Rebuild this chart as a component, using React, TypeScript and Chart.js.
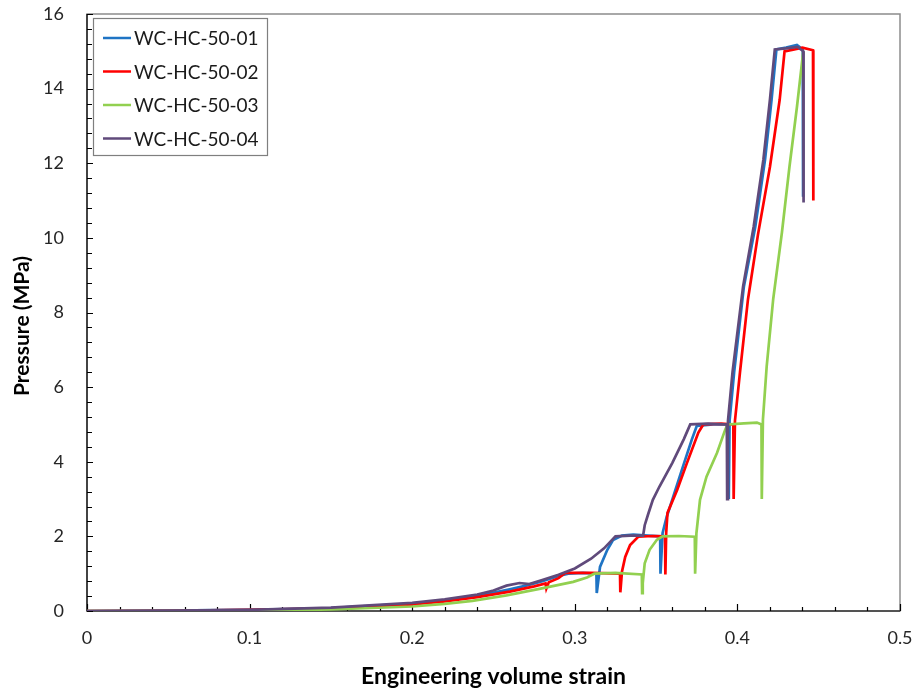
import React, { useEffect, useRef } from "react";
import { Chart, registerables } from "chart.js";

Chart.register(...registerables);

const FONT = "Lato, 'Open Sans', 'DejaVu Sans', sans-serif";

const seriesNames = ["WC-HC-50-01", "WC-HC-50-02", "WC-HC-50-03", "WC-HC-50-04"];
const seriesColors = ["#1f74c4", "#ff0000", "#92d050", "#604a7b"];

const strain01 = [0, 0.05, 0.1, 0.15, 0.2, 0.22, 0.24, 0.26, 0.27, 0.28, 0.29, 0.296, 0.305, 0.3133, 0.3135, 0.3155, 0.32, 0.3235, 0.329, 0.336, 0.345, 0.3525, 0.3527, 0.354, 0.3565, 0.3605, 0.3665, 0.372, 0.375, 0.385, 0.3945, 0.3947, 0.3952, 0.398, 0.404, 0.411, 0.417, 0.421, 0.424, 0.43, 0.4366, 0.4402, 0.4404];
const pressure01 = [0, 0.01, 0.03, 0.08, 0.2, 0.28, 0.4, 0.58, 0.68, 0.8, 0.94, 1.0, 1.02, 1.0, 0.48, 1.18, 1.64, 1.9, 2.02, 2.05, 2.02, 2.0, 1.0, 2.09, 2.52, 3.06, 3.87, 4.6, 4.96, 5.0, 5.0, 3.0, 5.1, 6.4, 8.7, 10.3, 12.1, 13.7, 15.05, 15.1, 15.17, 15.05, 11.1];

const strain02 = [0, 0.05, 0.1, 0.15, 0.2, 0.22, 0.24, 0.26, 0.275, 0.282, 0.2825, 0.284, 0.29, 0.294, 0.31, 0.3278, 0.328, 0.329, 0.331, 0.334, 0.339, 0.348, 0.3555, 0.3557, 0.3562, 0.357, 0.363, 0.369, 0.376, 0.379, 0.39, 0.3975, 0.3977, 0.3985, 0.4016, 0.4065, 0.4127, 0.42, 0.426, 0.429, 0.435, 0.44, 0.4465, 0.4467];
const pressure02 = [0, 0.005, 0.03, 0.07, 0.18, 0.26, 0.37, 0.52, 0.66, 0.74, 0.6, 0.77, 0.88, 1.02, 1.02, 1.0, 0.5, 1.05, 1.45, 1.77, 1.99, 2.01, 2.0, 0.98, 2.09, 2.63, 3.25, 3.97, 4.78, 5.0, 5.02, 5.0, 3.0, 5.1, 6.4, 8.35, 10.1, 11.9, 13.7, 15.0, 15.05, 15.1, 15.03, 11.0];

const strain03 = [0, 0.05, 0.1, 0.15, 0.2, 0.22, 0.237, 0.258, 0.279, 0.299, 0.3075, 0.312, 0.325, 0.3412, 0.3414, 0.3418, 0.343, 0.346, 0.3505, 0.354, 0.364, 0.3738, 0.374, 0.3748, 0.377, 0.381, 0.3875, 0.3925, 0.394, 0.404, 0.412, 0.4148, 0.415, 0.4157, 0.418, 0.422, 0.4274, 0.432, 0.4366, 0.4405];
const pressure03 = [0, 0, 0.01, 0.04, 0.12, 0.19, 0.27, 0.42, 0.6, 0.78, 0.9, 1.0, 1.02, 0.98, 0.48, 0.75, 1.28, 1.64, 1.91, 2.0, 2.01, 1.99, 1.0, 2.09, 2.98, 3.6, 4.24, 4.86, 5.0, 5.03, 5.05, 5.0, 3.0, 5.13, 6.55, 8.35, 10.15, 11.9, 13.5, 15.0];

const strain04 = [0, 0.05, 0.1, 0.15, 0.2, 0.22, 0.24, 0.25, 0.258, 0.266, 0.272, 0.28, 0.29, 0.3, 0.31, 0.318, 0.325, 0.334, 0.342, 0.343, 0.345, 0.348, 0.352, 0.36, 0.367, 0.371, 0.382, 0.3935, 0.3937, 0.3942, 0.397, 0.4035, 0.41, 0.416, 0.42, 0.423, 0.43, 0.437, 0.4405, 0.4407];
const pressure04 = [0, 0.01, 0.03, 0.09, 0.22, 0.31, 0.44, 0.55, 0.68, 0.75, 0.72, 0.83, 0.97, 1.14, 1.4, 1.68, 2.0, 2.02, 2.02, 2.3, 2.58, 2.98, 3.33, 3.97, 4.6, 5.0, 5.02, 5.0, 3.0, 5.1, 6.4, 8.7, 10.3, 12.1, 13.7, 15.05, 15.08, 15.12, 15.0, 10.95];

const xTickValues = [0, 0.1, 0.2, 0.3, 0.4, 0.5];
const xTickLabels = ["0", "0.1", "0.2", "0.3", "0.4", "0.5"];
const yTickValues = [0, 2, 4, 6, 8, 10, 12, 14, 16];
const yTickLabels = ["0", "2", "4", "6", "8", "10", "12", "14", "16"];

const xTitle = "Engineering volume strain";
const yTitle = "Pressure (MPa)";

const seriesStrain = [strain01, strain02, strain03, strain04];
const seriesPressure = [pressure01, pressure02, pressure03, pressure04];

const axesPlugin = {
  id: "axesFrame",
  beforeDatasetsDraw(chart: any) {
    const { ctx, chartArea, scales } = chart;
    const { left, right, top, bottom } = chartArea;
    const x = scales.x;
    const y = scales.y;
    ctx.save();
    ctx.strokeStyle = "#8c8c8c";
    ctx.lineWidth = 1.5;
    ctx.strokeRect(left, top, right - left, bottom - top);
    ctx.strokeStyle = "#000";
    ctx.lineWidth = 1.2;
    ctx.beginPath();
    ctx.moveTo(left, top);
    ctx.lineTo(left, bottom);
    ctx.lineTo(right, bottom);
    const xMinorStep = 0.02;
    const nx = Math.round((x.max - x.min) / xMinorStep);
    for (let i = 0; i <= nx; i++) {
      const px = Math.round(x.getPixelForValue(x.min + i * xMinorStep)) + 0.5;
      const len = i % 5 === 0 ? 7 : 4;
      ctx.moveTo(px, bottom);
      ctx.lineTo(px, bottom - len);
    }
    const yMinorStep = 0.4;
    const ny = Math.round((y.max - y.min) / yMinorStep);
    for (let i = 0; i <= ny; i++) {
      const py = Math.round(y.getPixelForValue(y.min + i * yMinorStep)) + 0.5;
      const len = i % 5 === 0 ? 6 : 5;
      ctx.moveTo(left, py);
      ctx.lineTo(left + len, py);
    }
    ctx.stroke();

    // vertical axis title
    ctx.save();
    ctx.translate(22, 326);
    ctx.rotate(-Math.PI / 2);
    ctx.font = `bold 21px ${FONT}`;
    ctx.fillStyle = "#000";
    ctx.textAlign = "center";
    ctx.textBaseline = "middle";
    ctx.fillText(yTitle, 0, 0);
    ctx.restore();
    ctx.restore();
  },
};

const legendPlugin = {
  id: "boxLegend",
  afterDraw(chart: any) {
    const { ctx } = chart;
    const bx = 93.5, by = 18.5, bw = 174, bh = 137;
    ctx.save();
    ctx.fillStyle = "#fff";
    ctx.fillRect(bx, by, bw, bh);
    ctx.strokeStyle = "#7f7f7f";
    ctx.lineWidth = 1.2;
    ctx.strokeRect(bx, by, bw, bh);
    ctx.font = `19px ${FONT}`;
    ctx.textBaseline = "middle";
    chart.data.datasets.forEach((ds: any, i: number) => {
      const cy = 38 + i * 33.5;
      ctx.strokeStyle = ds.borderColor;
      ctx.lineWidth = 2.5;
      ctx.beginPath();
      ctx.moveTo(103, cy);
      ctx.lineTo(131, cy);
      ctx.stroke();
      ctx.fillStyle = "#1a1a1a";
      ctx.fillText(ds.label, 134, cy + 1);
    });
    ctx.restore();
  },
};

const zeroPad = (s: any) => {
  s.paddingTop = 0;
  s.paddingBottom = 0;
  s.paddingLeft = 0;
  s.paddingRight = 0;
};

export default function App() {
  const ref = useRef<HTMLCanvasElement | null>(null);
  useEffect(() => {
    if (!ref.current) return;
    const datasets = seriesNames.map((name, i) => ({
      label: name,
      data: seriesStrain[i].map((v, j) => ({ x: v, y: seriesPressure[i][j] })),
      borderColor: seriesColors[i],
      backgroundColor: seriesColors[i],
      borderWidth: 2.7,
      pointRadius: 0,
      showLine: true,
      tension: 0,
      fill: false,
      order: seriesNames.length - i,
    }));
    const chart = new Chart(ref.current, {
      type: "scatter",
      data: { datasets },
      options: {
        animation: false,
        responsive: false,
        maintainAspectRatio: false,
        layout: { padding: { top: 14, right: 17, left: 0, bottom: 0 } },
        plugins: { legend: { display: false }, tooltip: { enabled: false } },
        scales: {
          x: {
            type: "linear",
            min: 0,
            max: 0.5,
            afterFit: (s: any) => { s.height = 82; zeroPad(s); },
            afterBuildTicks: (s: any) => { s.ticks = xTickValues.map((v) => ({ value: v })); },
            grid: { display: false, drawTicks: false },
            border: { display: false },
            ticks: {
              padding: 16,
              color: "#262626",
              font: { family: FONT, size: 18 },
              maxRotation: 0,
              autoSkip: false,
              callback: (_v: any, i: number) => xTickLabels[i],
            },
            title: {
              display: true,
              text: xTitle,
              color: "#000",
              font: { family: FONT, size: 23, weight: "bold" },
              padding: { top: 0, bottom: 3 },
            },
          },
          y: {
            type: "linear",
            min: 0,
            max: 16,
            afterFit: (s: any) => { s.width = 87; zeroPad(s); },
            afterBuildTicks: (s: any) => { s.ticks = yTickValues.map((v) => ({ value: v })); },
            grid: { display: false, drawTicks: false },
            border: { display: false },
            ticks: {
              padding: 23,
              color: "#262626",
              font: { family: FONT, size: 18 },
              autoSkip: false,
              callback: (_v: any, i: number) => yTickLabels[i],
            },
            title: { display: false },
          },
        },
      },
      plugins: [axesPlugin, legendPlugin],
    } as any);
    return () => chart.destroy();
  }, []);
  return (
    <div style={{ position: "fixed", left: 0, top: 0, width: 917, height: 693, background: "#fff" }}>
      <canvas ref={ref} width={917} height={693} style={{ display: "block", width: 917, height: 693 }} />
    </div>
  );
}
